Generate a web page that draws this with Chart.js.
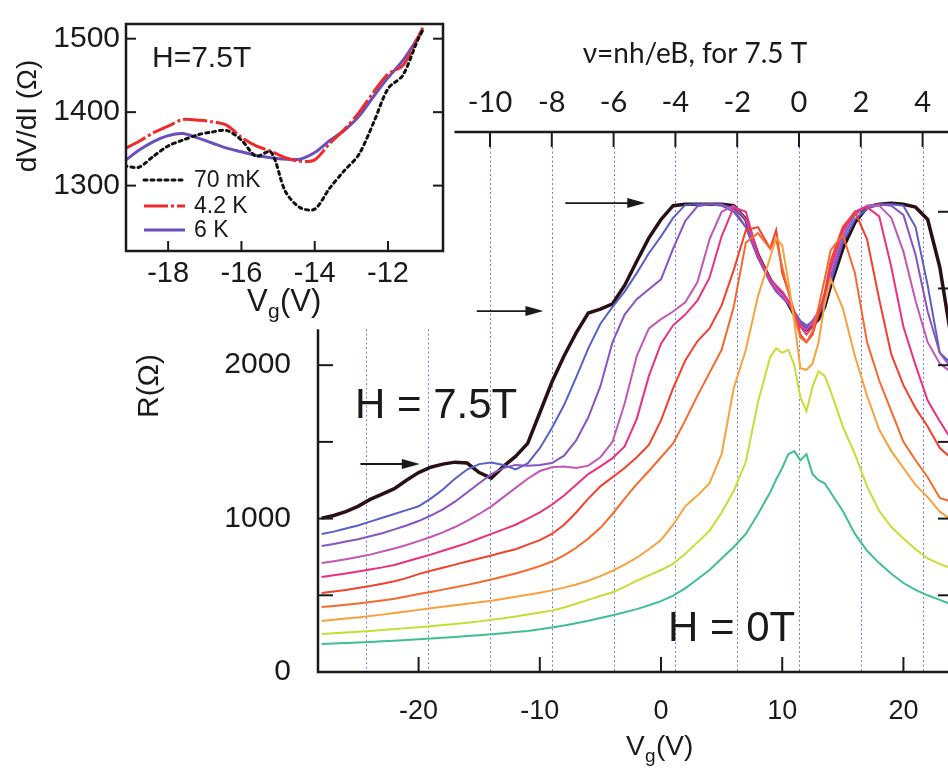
<!DOCTYPE html>
<html>
<head>
<meta charset="utf-8">
<script src="https://cdn.jsdelivr.net/npm/chart.js@4.4.0/dist/chart.umd.min.js"></script>
<style>
  html, body { margin: 0; padding: 0; background: #fff; overflow: hidden; }
  #wrap { position: relative; width: 948px; height: 770px; overflow: hidden; background: #fff; }
  #mainChart { position: absolute; left: 0; top: 0; }
  #insetChart { position: absolute; left: 0; top: 0; }
</style>
</head>
<body>
<div id="wrap">
  <canvas id="mainChart" width="960" height="770"></canvas>
  <canvas id="insetChart" width="450" height="336"></canvas>
</div>
<script>
// gate voltage grid (V) shared by all main curves
const vg = [-28, -27, -26, -25, -24, -23, -22, -21, -20, -19, -18, -17, -16, -15, -14, -13, -12, -11, -10, -9,
  -8, -7, -6, -5, -4, -3, -2, -1, 0, 1, 2, 3, 4, 5, 6, 7, 8,
  9, 9.5, 10, 10.5, 11, 11.5, 12, 12.5, 13, 13.5, 14,
  15, 16, 17, 18, 19, 20, 21, 22, 23, 24];

// resistance (ohm), from H = 7.5 T down to H = 0 T
const r75 = [1003, 1020, 1045, 1080, 1125, 1160, 1195, 1250, 1300, 1335,
  1355, 1368, 1362, 1300, 1264, 1340, 1405, 1490, 1690, 1890,
  2060, 2210, 2340, 2365, 2400, 2520, 2678, 2830,
  2950, 3040, 3049, 3049, 3049, 3049, 3040, 2950, 2720,
  2560, 2500, 2470, 2400, 2330, 2260, 2230, 2260, 2300, 2380, 2520,
  2760, 2930, 3030, 3049, 3055, 3049, 3030, 2950, 2640, 2150];
const rBlue = [899, 915, 935, 955, 980, 1005, 1030, 1055, 1080, 1130,
  1190, 1260, 1320, 1355, 1365, 1350, 1320, 1360, 1459, 1590,
  1740, 1920, 2110, 2270, 2380, 2480, 2600, 2730,
  2840, 2960, 3045, 3049, 3049, 3040, 3000, 2900, 2700,
  2560, 2500, 2460, 2420, 2350, 2290, 2260, 2280, 2330, 2400, 2540,
  2800, 2950, 3020, 3049, 3049, 3040, 2900, 2520, 2080, 2010];
const rPurple = [821, 835, 850, 865, 885, 905, 930, 955, 984, 1020,
  1060, 1110, 1170, 1230, 1290, 1330, 1350, 1345, 1350, 1362,
  1410, 1510, 1660, 1863, 2150, 2330, 2430, 2495,
  2560, 2760, 2940, 3036, 3049, 3049, 3020, 2900, 2700,
  2540, 2480, 2440, 2400, 2340, 2280, 2250, 2290, 2350, 2430, 2580,
  2830, 2980, 3040, 3049, 3040, 2980, 2720, 2350, 2080, 1975];
const rOrchid = [710, 722, 735, 750, 765, 785, 805, 828, 853, 880,
  910, 945, 985, 1030, 1080, 1140, 1200, 1260, 1310, 1335,
  1340, 1330, 1345, 1400, 1500, 1750, 2060, 2240,
  2300, 2350, 2410, 2540, 2820, 3000, 3040, 2950, 2720,
  2560, 2500, 2460, 2410, 2330, 2260, 2230, 2270, 2350, 2450, 2620,
  2860, 3000, 3040, 3040, 2960, 2740, 2420, 2150, 2010, 1950];
const rPink = [619, 630, 642, 655, 668, 682, 698, 720, 743, 765,
  790, 815, 840, 870, 900, 930, 960, 1000, 1040, 1090,
  1150, 1220, 1290, 1340, 1394, 1470, 1650, 1930,
  2140, 2260, 2330, 2420, 2570, 2840, 3030, 3000, 2720,
  2560, 2520, 2480, 2420, 2330, 2250, 2200, 2250, 2340, 2460, 2640,
  2880, 3000, 3030, 2970, 2640, 2250, 2000, 1770, 1635, 1510];
const rRed = [515, 525, 535, 547, 560, 575, 592, 612, 638, 660,
  680, 700, 720, 740, 760, 780, 800, 830, 860, 900,
  960, 1040, 1130, 1210, 1270, 1330, 1400, 1480,
  1640, 1850, 2030, 2156, 2240, 2390, 2620, 2880, 2900,
  2760, 2880, 2600, 2480, 2350, 2200, 2150, 2200, 2330, 2470, 2680,
  2900, 3000, 2820, 2430, 2070, 1870, 1720, 1600, 1460, 1390];
const rOrangeRed = [423, 430, 438, 447, 456, 466, 477, 492, 508, 522,
  537, 552, 568, 585, 603, 622, 642, 665, 690, 720,
  760, 810, 870, 940, 1030, 1130, 1225, 1310,
  1400, 1490, 1640, 1800, 1950, 2100, 2380, 2800, 2860,
  2760, 2820, 2640, 2480, 2320, 2180, 2150, 2220, 2380, 2560, 2750,
  2850, 2600, 2150, 1900, 1700, 1500, 1380, 1270, 1135, 1110];
const rOrange = [332, 340, 348, 356, 365, 374, 384, 395, 405, 415,
  425, 435, 445, 455, 465, 478, 490, 503, 517, 532,
  550, 570, 595, 625, 660, 700, 745, 800,
  860, 960, 1080, 1150, 1230, 1420, 1850, 2100, 2450,
  2700, 2830, 2780, 2550, 2280, 1980, 1970, 2010, 2150, 2400, 2560,
  2370, 2060, 1800, 1580, 1440, 1330, 1220, 1140, 1045, 990];
const rYellow = [248, 253, 258, 263, 268, 274, 280, 286, 292, 299,
  306, 313, 321, 330, 340, 350, 362, 375, 388, 400,
  420, 445, 470, 495, 520, 555, 595, 630,
  665, 705, 770, 845, 920, 1040, 1180, 1370, 1760,
  2050, 2110, 2080, 2100, 2000, 1790, 1700, 1860, 1960, 1930, 1830,
  1600, 1420, 1210, 1050, 945, 870, 800, 740, 705, 675];
const r0 = [183, 186, 189, 192, 196, 200, 204, 208, 213, 218,
  223, 228, 234, 240, 246, 253, 260, 268, 278, 290,
  303, 318, 334, 352, 370, 390, 410, 435,
  462, 498, 545, 605, 665, 740, 815, 900, 1030,
  1170, 1255, 1330, 1420, 1440, 1380, 1420, 1290, 1250, 1230, 1170,
  1050, 900, 790, 710, 640, 580, 535, 500, 470, 440];

// axis ticks
const vgTicks = [-20, -10, 0, 10, 20];
const rLabelTicks = [0, 1000, 2000];
const rLeftTicks = [0, 500, 1000, 1500, 2000];
const rRightTicks = [0, 500, 1000, 1500, 2000, 2500, 3000];
const nuTicks = [-10, -8, -6, -4, -2, 0, 2, 4];
const nuGuides = [-14, -12, -10, -8, -6, -4, -2, 0, 2, 4];

// arrows marking the plateaus (Vg from, Vg to, R)
const arrowFrom = [-7.9, -15.2, -24.8];
const arrowTo = [-1.3, -9.7, -19.9];
const arrowR = [3057, 2353, 1356];

// inset: dV/dI at 7.5 T
const vgInset = [-19.2, -18.8, -18.4, -18.0, -17.6, -17.2, -16.8, -16.4, -16.0, -15.6, -15.2,
  -14.8, -14.4, -14.0, -13.6, -13.2, -12.8, -12.4, -12.0, -11.6, -11.2, -11.05];
const dv70mK = [1327, 1325, 1340, 1354, 1362, 1369, 1373, 1375, 1362, 1340, 1346,
  1292, 1270, 1268, 1296, 1320, 1342, 1385, 1432, 1450, 1497, 1512];
const dv42K = [1350, 1360, 1372, 1381, 1390, 1389, 1387, 1382, 1366, 1354, 1347,
  1338, 1333, 1335, 1357, 1376, 1399, 1427, 1452, 1463, 1500, 1515];
const dv6K = [1333, 1348, 1360, 1368, 1371, 1365, 1358, 1351, 1346, 1341, 1338,
  1336, 1336, 1345, 1361, 1375, 1394, 1421, 1447, 1470, 1500, 1512];
const insetXTicks = [-18, -16, -14, -12];
const insetYTicks = [1300, 1400, 1500];

const FONT = "'Liberation Sans', Arial, sans-serif";
const TOPFONT = "Lato, 'Open Sans', sans-serif";
const INK = '#1a1a1a';

const curves = [
  { r: r0, color: '#40bf8f', w: 2 },
  { r: rYellow, color: '#c4df34', w: 2 },
  { r: rOrange, color: '#f7a23c', w: 2 },
  { r: rOrangeRed, color: '#f7682c', w: 2 },
  { r: rRed, color: '#f2412d', w: 2 },
  { r: rPink, color: '#ee2f7c', w: 2 },
  { r: rOrchid, color: '#c257b8', w: 2 },
  { r: rPurple, color: '#8953c2', w: 2 },
  { r: rBlue, color: '#5a5fc6', w: 2 },
  { r: r75, color: '#2a1015', w: 3.5 }
];

function line(ctx, x1, y1, x2, y2) {
  ctx.beginPath();
  ctx.moveTo(x1, y1);
  ctx.lineTo(x2, y2);
  ctx.stroke();
}

const plain = (v) => String(v);
const leftAxisTop = 2235;
const topAxisStart = -11.15;

const frame = {
  id: 'frame',
  beforeDatasetsDraw(chart) {
    const { ctx, chartArea: a, scales } = chart;
    ctx.save();
    ctx.strokeStyle = '#767be0';
    ctx.lineWidth = 1;
    ctx.setLineDash([2, 2.5]);
    nuGuides.forEach((n) => {
      const px = Math.round(scales.nu.getPixelForValue(n)) + 0.5;
      const top = n < -10 ? scales.y.getPixelForValue(leftAxisTop) : a.top + 15;
      line(ctx, px, top, px, a.bottom);
    });
    ctx.restore();
  },
  afterDatasetsDraw(chart) {
    const { ctx, chartArea: a, scales } = chart;
    const x = scales.x, y = scales.y, nu = scales.nu;
    ctx.save();
    ctx.strokeStyle = INK;
    ctx.fillStyle = INK;
    ctx.lineWidth = 2.5;
    // axis lines
    line(ctx, a.left, y.getPixelForValue(leftAxisTop), a.left, a.bottom + 1);
    line(ctx, a.left - 1, a.bottom, a.right, a.bottom);
    line(ctx, nu.getPixelForValue(topAxisStart), a.top, a.right, a.top);
    line(ctx, a.right, a.top, a.right, a.bottom);
    // inward ticks
    ctx.lineWidth = 2;
    vgTicks.forEach((v) => { const px = x.getPixelForValue(v); line(ctx, px, a.bottom, px, a.bottom - 15); });
    rLeftTicks.forEach((r) => { const py = y.getPixelForValue(r); line(ctx, a.left, py, a.left + 15, py); });
    rRightTicks.forEach((r) => { const py = y.getPixelForValue(r); line(ctx, a.right, py, a.right - 15, py); });
    nuTicks.forEach((n) => { const px = nu.getPixelForValue(n); line(ctx, px, a.top, px, a.top + 15); });
    // arrows
    ctx.lineWidth = 1.8;
    arrowR.forEach((r, i) => {
      const py = y.getPixelForValue(r);
      const x1 = x.getPixelForValue(arrowFrom[i]);
      const x2 = x.getPixelForValue(arrowTo[i]);
      line(ctx, x1, py, x2 - 14, py);
      ctx.beginPath();
      ctx.moveTo(x2, py);
      ctx.lineTo(x2 - 18, py - 5);
      ctx.lineTo(x2 - 18, py + 5);
      ctx.closePath();
      ctx.fill();
    });
    // texts
    ctx.textBaseline = 'alphabetic';
    ctx.textAlign = 'center';
    ctx.font = `28px ${TOPFONT}`;
    ctx.fillText('\u03BD=nh/eB, for 7.5 T', 695, 63);
    ctx.textAlign = 'left';
    ctx.font = `42px ${FONT}`;
    ctx.fillText('H = 7.5T', 355, 418);
    ctx.fillText('H = 0T', 668, 641);
    ctx.font = `28px ${FONT}`;
    ctx.fillText('V', 626, 755);
    ctx.font = `19px ${FONT}`;
    ctx.fillText('g', 645, 762);
    ctx.font = `28px ${FONT}`;
    ctx.fillText('(V)', 656, 755);
    ctx.save();
    ctx.translate(150, 386);
    ctx.rotate(-Math.PI / 2);
    ctx.textAlign = 'center';
    ctx.textBaseline = 'middle';
    ctx.font = `30px ${FONT}`;
    ctx.fillText('R(\u03A9)', 0, 0);
    ctx.restore();
    ctx.restore();
  }
};

new Chart(document.getElementById('mainChart'), {
  type: 'line',
  data: {
    datasets: curves.map((c) => ({
      data: vg.map((v, i) => ({ x: v, y: c.r[i] })),
      borderColor: c.color,
      borderWidth: c.w,
      pointRadius: 0,
      tension: 0,
      fill: false
    }))
  },
  options: {
    responsive: false,
    animation: false,
    events: [],
    layout: { padding: { left: 0, right: 7, top: 0, bottom: 0 } },
    plugins: { legend: { display: false }, tooltip: { enabled: false } },
    scales: {
      x: {
        type: 'linear', position: 'bottom', min: -28.3, max: 24.09,
        afterFit: (s) => { s.height = 98; },
        afterBuildTicks: (s) => { s.ticks = vgTicks.map((v) => ({ value: v })); },
        grid: { display: false, drawTicks: false },
        border: { display: false },
        ticks: { color: INK, font: { family: FONT, size: 27 }, padding: 23, maxRotation: 0, callback: plain }
      },
      nu: {
        type: 'linear', axis: 'x', position: 'top', min: -15.566, max: 4.984,
        afterFit: (s) => { s.height = 132; },
        afterBuildTicks: (s) => { s.ticks = nuTicks.map((v) => ({ value: v })); },
        grid: { display: false, drawTicks: false },
        border: { display: false },
        ticks: { color: INK, font: { family: TOPFONT, size: 29 }, padding: 12, maxRotation: 0, callback: plain }
      },
      y: {
        type: 'linear', position: 'left', min: 0, max: 3520,
        afterFit: (s) => { s.width = 318; },
        afterBuildTicks: (s) => { s.ticks = rLabelTicks.map((v) => ({ value: v })); },
        grid: { display: false, drawTicks: false },
        border: { display: false },
        ticks: { color: INK, font: { family: FONT, size: 30 }, padding: 27, callback: plain }
      }
    }
  },
  plugins: [frame]
});

const insetFrame = {
  id: 'insetFrame',
  beforeDraw(chart) {
    const { ctx, width } = chart;
    ctx.save();
    ctx.fillStyle = '#fff';
    ctx.fillRect(0, 0, width, 322);
    ctx.restore();
  },
  afterDatasetsDraw(chart) {
    const { ctx, chartArea: a, scales } = chart;
    ctx.save();
    ctx.strokeStyle = INK;
    ctx.fillStyle = INK;
    ctx.lineWidth = 2.5;
    ctx.strokeRect(a.left, a.top, a.right - a.left, a.bottom - a.top);
    ctx.lineWidth = 2;
    insetXTicks.forEach((v) => { const px = scales.x.getPixelForValue(v); line(ctx, px, a.bottom, px, a.bottom - 10); });
    insetYTicks.forEach((r) => {
      const py = scales.y.getPixelForValue(r);
      line(ctx, a.left, py, a.left + 10, py);
      line(ctx, a.right, py, a.right - 10, py);
    });
    // legend
    const ds = chart.data.datasets;
    const legendY = [180, 206, 230];
    const legendText = ['70 mK', '4.2 K', '6 K'];
    ds.forEach((d, i) => {
      ctx.save();
      ctx.strokeStyle = d.borderColor;
      ctx.lineWidth = d.borderWidth;
      ctx.lineCap = d.borderCapStyle || 'butt';
      ctx.setLineDash(d.borderDash || []);
      line(ctx, 144, legendY[i], 185, legendY[i]);
      ctx.restore();
      ctx.font = `23px ${FONT}`;
      ctx.textBaseline = 'middle';
      ctx.fillText(legendText[i], 194, legendY[i] + 1);
    });
    ctx.textBaseline = 'alphabetic';
    ctx.font = `30px ${FONT}`;
    ctx.fillText('H=7.5T', 152, 67);
    ctx.font = `31px ${FONT}`;
    ctx.fillText('V', 247, 311);
    ctx.font = `21px ${FONT}`;
    ctx.fillText('g', 268, 318);
    ctx.font = `31px ${FONT}`;
    ctx.fillText('(V)', 280, 311);
    ctx.save();
    ctx.translate(28, 116);
    ctx.rotate(-Math.PI / 2);
    ctx.textAlign = 'center';
    ctx.textBaseline = 'middle';
    ctx.font = `28px ${FONT}`;
    ctx.fillText('dV/dI (\u03A9)', 0, 0);
    ctx.restore();
    ctx.restore();
  }
};

new Chart(document.getElementById('insetChart'), {
  type: 'line',
  data: {
    datasets: [
      { data: vgInset.map((v, i) => ({ x: v, y: dv70mK[i] })), borderColor: '#111', borderWidth: 3, borderDash: [3, 4], borderCapStyle: 'round' },
      { data: vgInset.map((v, i) => ({ x: v, y: dv42K[i] })), borderColor: '#ef2a2a', borderWidth: 3, borderDash: [24, 3, 3, 3] },
      { data: vgInset.map((v, i) => ({ x: v, y: dv6K[i] })), borderColor: '#6a50bf', borderWidth: 3 }
    ].map((d) => Object.assign({ pointRadius: 0, tension: 0.3, fill: false }, d))
  },
  options: {
    responsive: false,
    animation: false,
    events: [],
    layout: { padding: { left: 0, right: 7, top: 8, bottom: 0 } },
    plugins: { legend: { display: false }, tooltip: { enabled: false } },
    scales: {
      x: {
        type: 'linear', min: -19.15, max: -10.5,
        afterFit: (s) => { s.height = 85; },
        afterBuildTicks: (s) => { s.ticks = insetXTicks.map((v) => ({ value: v })); },
        grid: { display: false, drawTicks: false },
        border: { display: false },
        ticks: { color: INK, font: { family: FONT, size: 29 }, padding: 6, maxRotation: 0, callback: plain }
      },
      y: {
        type: 'linear', min: 1211, max: 1520,
        afterFit: (s) => { s.width = 126; },
        afterBuildTicks: (s) => { s.ticks = insetYTicks.map((v) => ({ value: v })); },
        grid: { display: false, drawTicks: false },
        border: { display: false },
        ticks: { color: INK, font: { family: FONT, size: 30 }, padding: 6, callback: plain }
      }
    }
  },
  plugins: [insetFrame]
});
</script>
</body>
</html>
